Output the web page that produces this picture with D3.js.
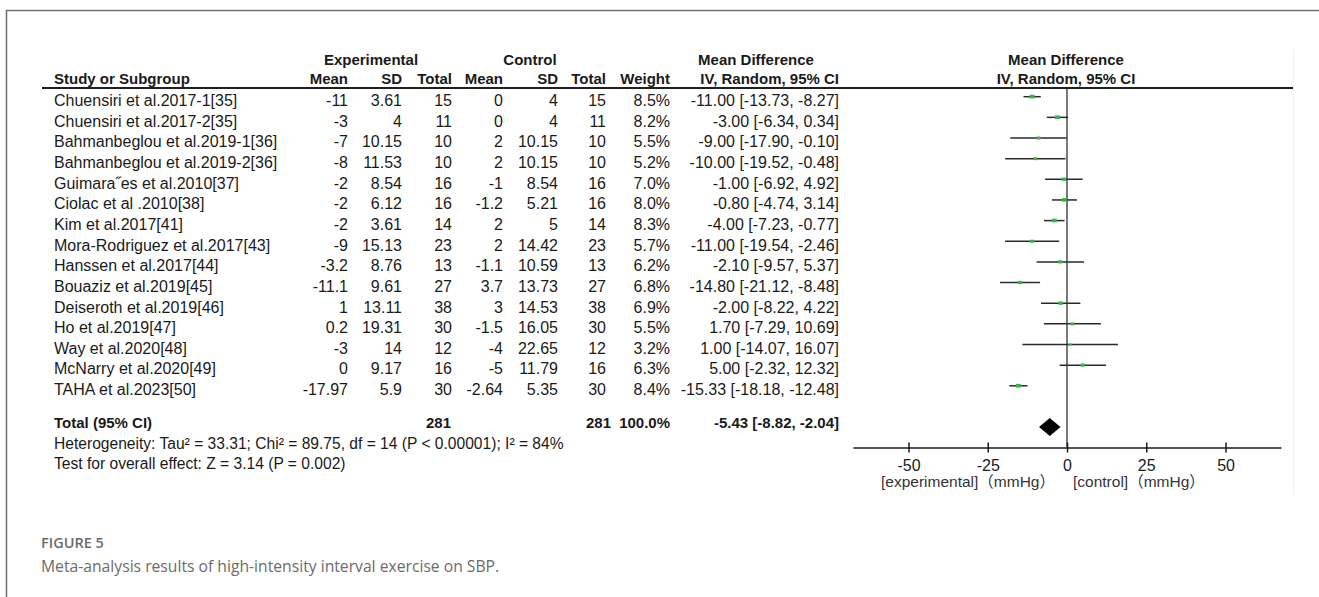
<!DOCTYPE html>
<html><head><meta charset="utf-8">
<script src="https://cdn.jsdelivr.net/npm/d3@7"></script>
<style>
html,body{margin:0;padding:0;background:#fff;}
svg{display:block;}
</style></head>
<body>
<svg id="c" width="1319" height="597"></svg>
<script>
const studies = ["Chuensiri et al.2017-1[35]","Chuensiri et al.2017-2[35]","Bahmanbeglou et al.2019-1[36]","Bahmanbeglou et al.2019-2[36]","Guimara\u02ddes et al.2010[37]","Ciolac et al .2010[38]","Kim et al.2017[41]","Mora-Rodriguez et al.2017[43]","Hanssen et al.2017[44]","Bouaziz et al.2019[45]","Deiseroth et al.2019[46]","Ho et al.2019[47]","Way et al.2020[48]","McNarry et al.2020[49]","TAHA et al.2023[50]"];
const expMean = ["-11","-3","-7","-8","-2","-2","-2","-9","-3.2","-11.1","1","0.2","-3","0","-17.97"];
const expSD = ["3.61","4","10.15","11.53","8.54","6.12","3.61","15.13","8.76","9.61","13.11","19.31","14","9.17","5.9"];
const expN = [15,11,10,10,16,16,14,23,13,27,38,30,12,16,30];
const ctlMean = ["0","0","2","2","-1","-1.2","2","2","-1.1","3.7","3","-1.5","-4","-5","-2.64"];
const ctlSD = ["4","4","10.15","10.15","8.54","5.21","5","14.42","10.59","13.73","14.53","16.05","22.65","11.79","5.35"];
const ctlN = [15,11,10,10,16,16,14,23,13,27,38,30,12,16,30];
const weights = [8.5,8.2,5.5,5.2,7.0,8.0,8.3,5.7,6.2,6.8,6.9,5.5,3.2,6.3,8.4];
const md = [-11.00,-3.00,-9.00,-10.00,-1.00,-0.80,-4.00,-11.00,-2.10,-14.80,-2.00,1.70,1.00,5.00,-15.33];
const lo = [-13.73,-6.34,-17.90,-19.52,-6.92,-4.74,-7.23,-19.54,-9.57,-21.12,-8.22,-7.29,-14.07,-2.32,-18.18];
const hi = [-8.27,0.34,-0.10,-0.48,4.92,3.14,-0.77,-2.46,5.37,-8.48,4.22,10.69,16.07,12.32,-12.48];
const total = {n1:281, n2:281, w:"100.0%", md:-5.43, lo:-8.82, hi:-2.04};
const tickVals = [-50,-25,0,25,50];
const heterogeneity = "Heterogeneity: Tau\u00b2 = 33.31; Chi\u00b2 = 89.75, df = 14 (P < 0.00001); I\u00b2 = 84%";
const overall = "Test for overall effect: Z = 3.14 (P = 0.002)";

const svg = d3.select("#c");
const F = "'Liberation Sans', Arial, sans-serif";
const fs = 16;

// frame
svg.append("line").attr("x1",6).attr("x2",1319).attr("y1",10.5).attr("y2",10.5).attr("stroke","#6f6f6f").attr("stroke-width",1.5);
svg.append("line").attr("x1",6.5).attr("x2",6.5).attr("y1",10).attr("y2",597).attr("stroke","#6f6f6f").attr("stroke-width",1.5);
svg.append("line").attr("x1",1293.5).attr("x2",1293.5).attr("y1",49).attr("y2",495).attr("stroke","#f0f0f0").attr("stroke-width",1);

const rowY = d3.scaleLinear().domain([0,1]).range([106,126.65]);
const plotOff = -9.3;

function txt(x,y,s,anchor,bold,size,fill){
  return svg.append("text").attr("x",x).attr("y",y).text(s)
    .attr("text-anchor",anchor||"start").attr("font-family",F)
    .attr("font-size",size||fs).attr("font-weight",bold?"bold":"normal")
    .attr("fill",fill||"#1a1a1a");
}

// headers
txt(371,64.5,"Experimental","middle",true,15);
txt(530,64.5,"Control","middle",true,15);
txt(756,64.5,"Mean Difference","middle",true,15);
txt(1066,64.5,"Mean Difference","middle",true,15);
txt(54,84,"Study or Subgroup","start",true,15);
const colX = {em:348, esd:402, en:452, cm:503, csd:558, cn:606, w:670, ci:839};
txt(colX.em,84,"Mean","end",true,15);
txt(colX.esd,84,"SD","end",true,15);
txt(colX.en,84,"Total","end",true,15);
txt(colX.cm,84,"Mean","end",true,15);
txt(colX.csd,84,"SD","end",true,15);
txt(colX.cn,84,"Total","end",true,15);
txt(colX.w,84,"Weight","end",true,15);
txt(colX.ci,84,"IV, Random, 95% CI","end",true,15);
txt(1066,84,"IV, Random, 95% CI","middle",true,15);
svg.append("line").attr("x1",42).attr("x2",1293).attr("y1",88).attr("y2",88).attr("stroke","#1f1f1f").attr("stroke-width",2);

const f2 = v => v.toFixed(2);
studies.forEach((s,i)=>{
  const y = rowY(i);
  txt(54,y,s);
  txt(colX.em,y,expMean[i],"end");
  txt(colX.esd,y,expSD[i],"end");
  txt(colX.en,y,expN[i],"end");
  txt(colX.cm,y,ctlMean[i],"end");
  txt(colX.csd,y,ctlSD[i],"end");
  txt(colX.cn,y,ctlN[i],"end");
  txt(colX.w,y,weights[i].toFixed(1)+"%","end");
  txt(colX.ci,y,f2(md[i])+" ["+f2(lo[i])+", "+f2(hi[i])+"]","end");
});

// total
const ty = 428;
txt(54,ty,"Total (95% CI)","start",true,15);
txt(451,ty,total.n1,"end",true,15);
txt(611,ty,total.n2,"end",true,15);
txt(670,ty,total.w,"end",true,15);
txt(839,ty,f2(total.md)+" ["+f2(total.lo)+", "+f2(total.hi)+"]","end",true,15);
txt(54,449,heterogeneity,"start",false,15.6);
txt(54,469,overall,"start",false,15.6);

// forest plot
const x = d3.scaleLinear().domain([-67.5,67.5]).range([853,1281]);
const axisY = 447.5;
svg.append("line").attr("x1",x(0)).attr("x2",x(0)).attr("y1",89).attr("y2",axisY)
  .attr("stroke","#6a6a6a").attr("stroke-width",1.8);

const g = svg.append("g");
studies.forEach((s,i)=>{
  const y = rowY(i)+plotOff;
  g.append("line").attr("x1",x(lo[i])).attr("x2",x(hi[i])).attr("y1",y).attr("y2",y)
    .attr("stroke","#2a2a2a").attr("stroke-width",1.5);
  const sz = Math.sqrt(weights[i])*1.7;
  g.append("rect").attr("x",x(md[i])-sz/2).attr("y",y-sz/2+0.5).attr("width",sz).attr("height",sz*0.75)
    .attr("fill","#3cb34a");
});

// diamond
const dy = 427;
svg.append("path").attr("d",`M${x(total.lo)},${dy} L${x(total.md)},${dy-9} L${x(total.hi)},${dy} L${x(total.md)},${dy+9} Z`).attr("fill","#000");

// axis
const ax = svg.append("g").attr("transform",`translate(0,${axisY})`)
  .call(d3.axisBottom(x).tickValues(tickVals).tickSizeInner(5).tickSizeOuter(0).tickPadding(7).tickFormat(d => String(d)));
ax.select(".domain").attr("stroke","#1a1a1a").attr("stroke-width",1.5);
ax.selectAll(".tick line").attr("y1",-5).attr("stroke","#1a1a1a").attr("stroke-width",1.5);
ax.selectAll(".tick text").attr("font-family",F).attr("font-size",16).attr("fill","#1a1a1a");

const LF = "'Liberation Sans','Noto Sans CJK SC',sans-serif";
svg.append("text").attr("x",881).attr("y",487).text("[experimental]（mmHg）")
  .attr("font-family",LF).attr("font-size",15.5).attr("fill","#333");
svg.append("text").attr("x",1073).attr("y",487).text("[control]（mmHg）")
  .attr("font-family",LF).attr("font-size",15.5).attr("fill","#333");

// caption
svg.append("text").attr("x",41).attr("y",548).text("FIGURE 5")
  .attr("font-family","'Open Sans',sans-serif").attr("font-weight",600).attr("font-size",14.5).attr("fill","#6b6b6b");
svg.append("text").attr("x",41).attr("y",572).text("Meta-analysis results of high-intensity interval exercise on SBP.")
  .attr("font-family","'Open Sans',sans-serif").attr("font-size",15.7).attr("fill","#6b6b6b");
</script>
</body></html>
